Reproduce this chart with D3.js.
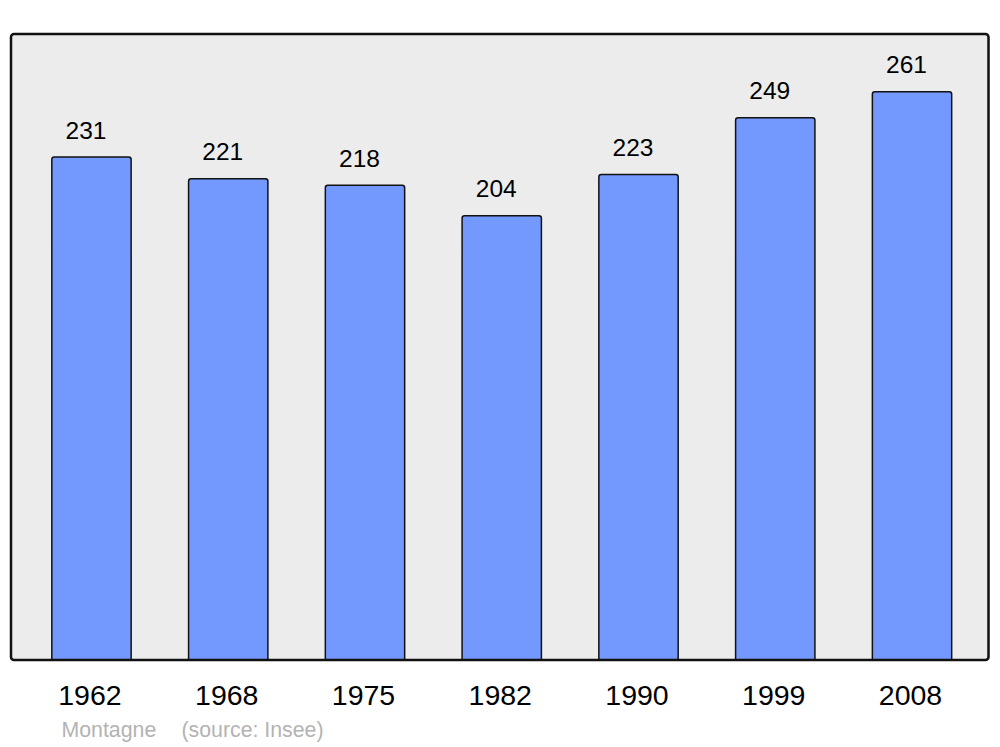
<!DOCTYPE html>
<html><head><meta charset="utf-8">
<script src="https://cdn.jsdelivr.net/npm/d3@7"></script>
<style>body{margin:0;background:#fff}svg{display:block}text{font-family:"Liberation Sans",Arial,sans-serif}</style>
</head><body>
<svg id="c" width="1000" height="747"></svg>
<script>
const years = ["1962","1968","1975","1982","1990","1999","2008"];
const population = [231,221,218,204,223,249,261];
const title = "Montagne";
const source = "(source: Insee)";

const svg = d3.select("#c");
const x = d3.scaleBand().domain(years).range([23.1, 980.4]).paddingInner(0.42).paddingOuter(0.21);
const y = d3.scaleLinear().domain([0, 287.5]).range([660, 34]);

svg.append("defs").append("clipPath").attr("id","clip").append("rect")
  .attr("x",11).attr("y",34).attr("width",977.5).attr("height",626);

svg.append("rect").attr("x",11).attr("y",34).attr("width",977.5).attr("height",626)
  .attr("rx",3).attr("fill","#ececec");

const data = years.map((d,i)=>({year:d, v:population[i]}));

svg.append("g").attr("clip-path","url(#clip)")
  .selectAll("rect.bar").data(data).enter().append("rect").attr("class","bar")
  .attr("x",d=>x(d.year)).attr("width",x.bandwidth())
  .attr("y",d=>y(d.v)).attr("height",d=>y(0)-y(d.v)+3)
  .attr("rx",2.5).attr("fill","#7399ff").attr("stroke","#111").attr("stroke-width",1.5);

svg.append("rect").attr("x",11).attr("y",34).attr("width",977.5).attr("height",626)
  .attr("rx",3).attr("fill","none").attr("stroke","#111").attr("stroke-width",2.5);

svg.selectAll("text.val").data(data).enter().append("text").attr("class","val")
  .attr("x",d=>x(d.year)+x.bandwidth()/2-5.5).attr("y",d=>y(d.v)-18.5)
  .attr("text-anchor","middle").attr("font-size",24.5).attr("fill","#000").text(d=>d.v);

svg.selectAll("text.yr").data(data).enter().append("text").attr("class","yr")
  .attr("x",d=>x(d.year)+x.bandwidth()/2-1.5).attr("y",705)
  .attr("text-anchor","middle").attr("font-size",28.5).attr("fill","#000").text(d=>d.year);

svg.append("text").attr("x",61.5).attr("y",737).attr("font-size",21.3).attr("fill","#b3b3b3").text(title);
svg.append("text").attr("x",181.5).attr("y",737).attr("font-size",21.3).attr("fill","#b3b3b3").text(source);
</script>
</body></html>
